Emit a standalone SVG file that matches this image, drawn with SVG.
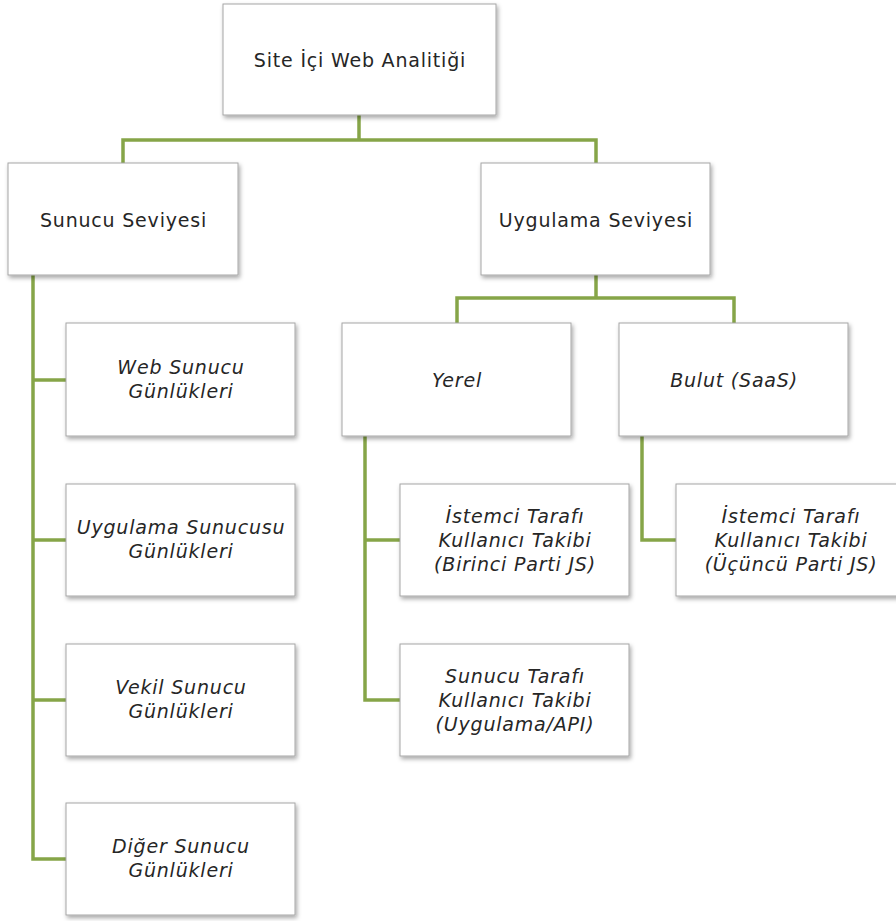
<svg xmlns="http://www.w3.org/2000/svg" width="896" height="921" viewBox="0 0 896 921">
  <defs>
    <filter id="shadow" x="-10%" y="-10%" width="125%" height="130%">
      <feDropShadow dx="1.5" dy="2.5" stdDeviation="2" flood-color="#000" flood-opacity="0.35"/>
    </filter>
  </defs>
  <style>
    .box { fill: #ffffff; stroke: #a6a6a6; stroke-width: 1; filter: url(#shadow); }
    .lbl { font-family: "DejaVu Sans", "Liberation Sans", sans-serif; font-size: 19px; letter-spacing: 0.8px; fill: #262626; text-anchor: middle; }
    .it { font-style: italic; }
    .link { fill: none; stroke: #86a548; stroke-width: 3.5; stroke-linejoin: miter; }
  </style>
  <rect width="896" height="921" fill="#ffffff"/>

  <!-- connectors -->
  <g id="connectors">
    <path class="link" d="M359,115 V140 M123,163 V140 H596 V163"/>
    <path class="link" d="M596,275 V298 M457,323 V298 H734 V323"/>
    <path class="link" d="M33,275 V859 H66 M33,380 H66 M33,540 H66 M33,700 H66"/>
    <path class="link" d="M365,436 V700 H400 M365,540 H400"/>
    <path class="link" d="M642,436 V540 H676"/>
  </g>

  <g id="root">
    <rect class="box" x="223" y="4" width="273" height="111"/>
    <text class="lbl" x="360" y="67">Site İçi Web Analitiği</text>
  </g>

  <g id="sunucu-seviyesi">
    <rect class="box" x="8" y="163" width="230" height="112"/>
    <text class="lbl" x="123.5" y="227">Sunucu Seviyesi</text>
  </g>

  <g id="uygulama-seviyesi">
    <rect class="box" x="481" y="163" width="229" height="112"/>
    <text class="lbl" x="596" y="227">Uygulama Seviyesi</text>
  </g>

  <g id="web-sunucu">
    <rect class="box" x="66" y="323" width="229" height="113"/>
    <text class="lbl it" x="181" y="374">Web Sunucu</text>
    <text class="lbl it" x="181" y="398">Günlükleri</text>
  </g>

  <g id="uygulama-sunucusu">
    <rect class="box" x="66" y="484" width="229" height="112"/>
    <text class="lbl it" x="181" y="534">Uygulama Sunucusu</text>
    <text class="lbl it" x="181" y="558">Günlükleri</text>
  </g>

  <g id="vekil-sunucu">
    <rect class="box" x="66" y="644" width="229" height="112"/>
    <text class="lbl it" x="181" y="694">Vekil Sunucu</text>
    <text class="lbl it" x="181" y="718">Günlükleri</text>
  </g>

  <g id="diger-sunucu">
    <rect class="box" x="66" y="803" width="229" height="112"/>
    <text class="lbl it" x="181" y="853">Diğer Sunucu</text>
    <text class="lbl it" x="181" y="877">Günlükleri</text>
  </g>

  <g id="yerel">
    <rect class="box" x="342" y="323" width="229" height="113"/>
    <text class="lbl it" x="457" y="387">Yerel</text>
  </g>

  <g id="bulut">
    <rect class="box" x="619" y="323" width="229" height="113"/>
    <text class="lbl it" x="734" y="387">Bulut (SaaS)</text>
  </g>

  <g id="istemci-birinci">
    <rect class="box" x="400" y="484" width="229" height="112"/>
    <text class="lbl it" x="515" y="523">İstemci Tarafı</text>
    <text class="lbl it" x="515" y="547">Kullanıcı Takibi</text>
    <text class="lbl it" x="515" y="571">(Birinci Parti JS)</text>
  </g>

  <g id="sunucu-tarafi">
    <rect class="box" x="400" y="644" width="229" height="112"/>
    <text class="lbl it" x="515" y="683">Sunucu Tarafı</text>
    <text class="lbl it" x="515" y="707">Kullanıcı Takibi</text>
    <text class="lbl it" x="515" y="731">(Uygulama/API)</text>
  </g>

  <g id="istemci-ucuncu">
    <rect class="box" x="676" y="484" width="229" height="112"/>
    <text class="lbl it" x="791" y="523">İstemci Tarafı</text>
    <text class="lbl it" x="791" y="547">Kullanıcı Takibi</text>
    <text class="lbl it" x="791" y="571">(Üçüncü Parti JS)</text>
  </g>
</svg>
